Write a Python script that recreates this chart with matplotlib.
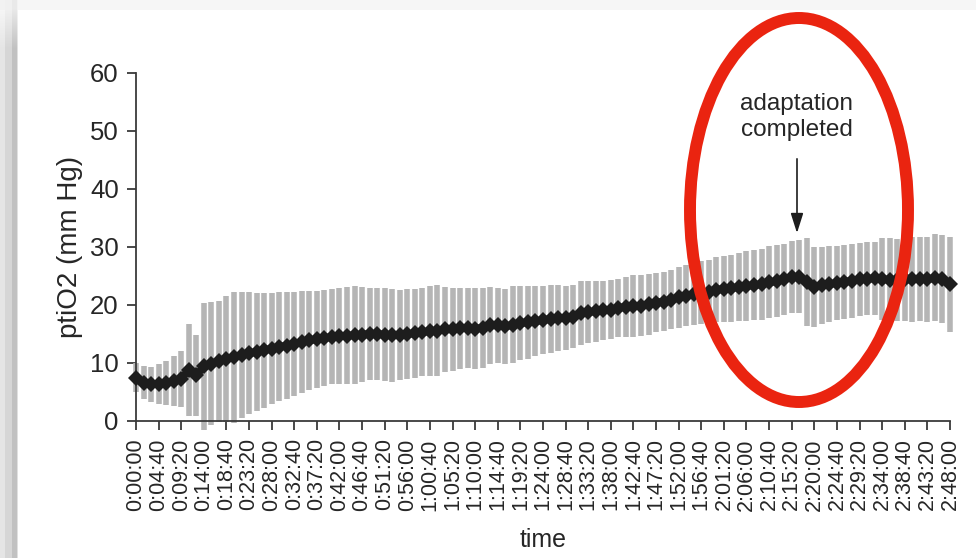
import numpy as np
import matplotlib
matplotlib.use("Agg")
import matplotlib.pyplot as plt
from matplotlib.patches import Ellipse

# Elapsed-time labels (one every third sample)
tick_labels = [
    "0:00:00", "0:04:40", "0:09:20", "0:14:00", "0:18:40", "0:23:20",
    "0:28:00", "0:32:40", "0:37:20", "0:42:00", "0:46:40", "0:51:20",
    "0:56:00", "1:00:40", "1:05:20", "1:10:00", "1:14:40", "1:19:20",
    "1:24:00", "1:28:40", "1:33:20", "1:38:00", "1:42:40", "1:47:20",
    "1:52:00", "1:56:40", "2:01:20", "2:06:00", "2:10:40", "2:15:20",
    "2:20:00", "2:24:40", "2:29:20", "2:34:00", "2:38:40", "2:43:20",
    "2:48:00",
]

# Mean tissue oxygen partial pressure (mm Hg)
mean_po2 = [
    7.5, 6.6, 6.3, 6.4, 6.5, 6.9, 7.3, 8.8, 7.9, 9.4,
    9.9, 10.3, 10.7, 11.0, 11.4, 11.7, 11.9, 12.2, 12.5, 12.8,
    13.0, 13.3, 13.6, 13.9, 14.1, 14.3, 14.5, 14.6, 14.7, 14.8,
    14.9, 15.0, 15.0, 14.9, 14.8, 14.8, 15.0, 15.1, 15.3, 15.5,
    15.6, 15.8, 15.8, 16.0, 16.0, 15.9, 16.1, 16.5, 16.5, 16.3,
    16.6, 16.9, 17.0, 17.2, 17.4, 17.6, 17.7, 17.8, 18.0, 18.6,
    18.8, 18.9, 19.1, 19.2, 19.5, 19.7, 19.8, 19.9, 20.1, 20.4,
    20.6, 20.9, 21.3, 21.6, 21.9, 22.2, 22.3, 22.6, 22.8, 22.9,
    23.1, 23.3, 23.4, 23.6, 23.9, 24.1, 24.4, 24.8, 24.9, 23.9,
    23.1, 23.4, 23.6, 23.8, 24.0, 24.2, 24.4, 24.5, 24.6, 24.5,
    24.3, 24.3, 24.4, 24.4, 24.5, 24.4, 24.7, 24.5, 23.6,
]

# Standard deviation (mm Hg)
sd_po2 = [
    2.5, 2.8, 3.0, 3.4, 3.8, 4.3, 4.8, 8.0, 7.0, 11.0,
    10.6, 10.4, 10.8, 11.3, 10.9, 10.5, 10.2, 9.9, 9.6, 9.4,
    9.2, 9.0, 8.8, 8.6, 8.4, 8.3, 8.2, 8.3, 8.4, 8.4,
    8.2, 8.0, 7.9, 8.0, 8.0, 7.8, 7.8, 7.6, 7.6, 7.8,
    7.8, 7.3, 7.1, 7.0, 6.9, 7.0, 6.9, 6.6, 6.5, 6.5,
    6.6, 6.4, 6.3, 6.0, 5.9, 5.8, 5.7, 5.5, 5.4, 5.5,
    5.4, 5.2, 5.1, 5.1, 5.0, 5.2, 5.3, 5.2, 5.2, 5.1,
    5.1, 5.1, 5.2, 5.3, 5.4, 5.4, 5.5, 5.6, 5.7, 5.8,
    5.9, 6.0, 6.0, 6.1, 6.2, 6.2, 6.2, 6.2, 6.3, 7.6,
    6.9, 6.6, 6.5, 6.3, 6.4, 6.4, 6.3, 6.3, 6.3, 7.0,
    7.2, 7.1, 7.2, 7.3, 7.3, 7.4, 7.5, 7.6, 8.2,
]

yticks = [0, 10, 20, 30, 40, 50, 60]
SAMPLES_PER_LABEL = 3
ADAPTATION_SAMPLE = 88

plt.rcParams["font.family"] = ["Liberation Sans", "DejaVu Sans"]
TEXT = "#262626"
AXIS = "#3a3a3a"

W, H = 976, 558
fig = plt.figure(figsize=(W / 100, H / 100), dpi=100)

# Page backdrop: white card with a soft grey shadow on the left and top
bg = np.ones((H, W))
bg[:10, :] = 0.965
rows = np.clip((np.arange(H) - 8) / 40.0, 0, 1)[:, None]
left_profile = np.array([0.90] * 5 + [0.84] * 7 + [0.76] * 5 + [0.88])
strip = 1 - (1 - left_profile[None, :]) * (0.35 + 0.65 * rows)
bg[:, :len(left_profile)] = strip
bg[:10, :len(left_profile)] = np.minimum(bg[:10, :len(left_profile)], 0.95)
bg_ax = fig.add_axes([0, 0, 1, 1], zorder=-10)
bg_ax.imshow(np.dstack([bg] * 3), aspect="auto", interpolation="nearest")
bg_ax.axis("off")

ax = fig.add_axes([136 / W, 1 - 421 / H, (950 - 136) / W, (421 - 73) / H])
ax.patch.set_alpha(0)

mean = np.array(mean_po2)
sd = np.array(sd_po2)
x = np.arange(len(mean))

ax.vlines(x, mean - sd, mean + sd, colors="#b5b5b5", linewidth=4.0,
          clip_on=False, zorder=2)
ax.plot(x, mean, color="#1d1d1d", linewidth=5.5, marker="D", markersize=8.5,
        markeredgewidth=0, solid_joinstyle="round", solid_capstyle="round",
        clip_on=False, zorder=3)

ax.set_xlim(0, len(mean) - 1)
ax.set_ylim(0, 60)
ax.set_yticks(yticks)
ax.set_xticks(x[::SAMPLES_PER_LABEL])
ax.set_xticklabels(tick_labels, rotation=90, fontsize=15.5, color=TEXT)
ax.tick_params(axis="y", labelsize=18.5, labelcolor=TEXT)
ax.tick_params(axis="both", direction="out", length=6.5, width=1.3,
               color=AXIS, pad=6)

for side in ("top", "right"):
    ax.spines[side].set_visible(False)
for side in ("left", "bottom"):
    ax.spines[side].set_color(AXIS)
    ax.spines[side].set_linewidth(1.3)

ax.set_ylabel("ptiO2 (mm Hg)", fontsize=20, color=TEXT, labelpad=5)
ax.set_xlabel("time", fontsize=18, color=TEXT, labelpad=12)

# Adaptation marker
ax.text(ADAPTATION_SAMPLE - 0.3, 52.4, "adaptation\ncompleted", ha="center",
        va="center", fontsize=17.5, color=TEXT, linespacing=1.2)
ax.annotate("", xy=(ADAPTATION_SAMPLE - 0.3, 32.4),
            xytext=(ADAPTATION_SAMPLE - 0.3, 45.2),
            arrowprops=dict(arrowstyle="-|>,head_length=1.2,head_width=0.38",
                            color="#1d1d1d", linewidth=1.2, mutation_scale=10,
                            shrinkA=0, shrinkB=0))

# Highlight ring around the adaptation phase
ring = Ellipse((7.99, (H - 210) / 100), 2.18, 3.84, transform=fig.dpi_scale_trans,
               facecolor="none", edgecolor="#ea2410", linewidth=8.6, zorder=20)
fig.add_artist(ring)

fig.savefig("out.png", dpi=100)
